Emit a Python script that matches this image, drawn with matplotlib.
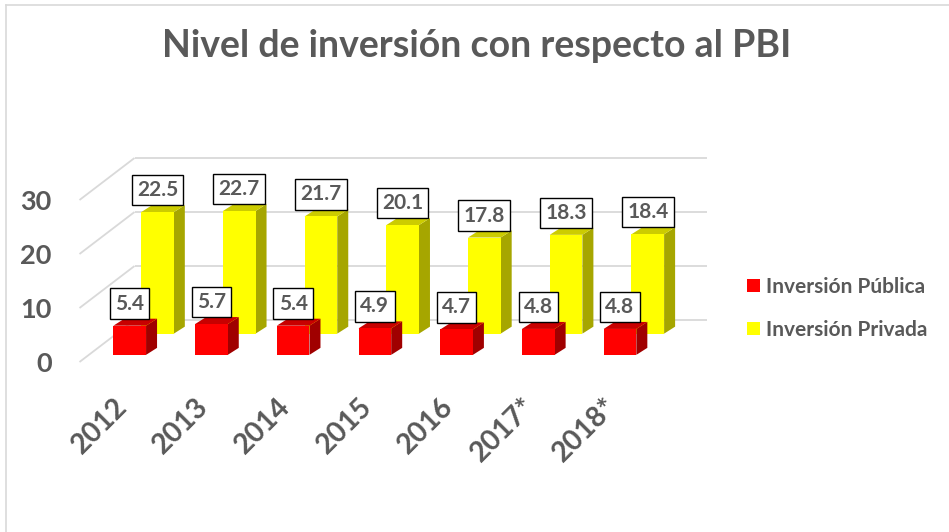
import matplotlib
matplotlib.use('Agg')
import matplotlib.pyplot as plt
from matplotlib.patches import Polygon, Rectangle, Patch
from matplotlib.lines import Line2D

# ---------------- data ----------------
years = ['2012', '2013', '2014', '2015', '2016', '2017*', '2018*']
publica = [5.4, 5.7, 5.4, 4.9, 4.7, 4.8, 4.8]
privada = [22.5, 22.7, 21.7, 20.1, 17.8, 18.3, 18.4]
series_names = ['Inversión Pública', 'Inversión Privada']
y_ticks = [0, 10, 20, 30]
title = 'Nivel de inversión con respecto al PBI'

# ---------------- style ----------------
FONT = 'Lato'
TXT = '#595959'
GRID = '#D9D9D9'
front_cols = ['#FF0000', '#FFFF00']
top_cols = ['#C80000', '#CCCC00']
side_cols = ['#A00000', '#A6A600']
depths = [0.17, 0.675]          # fraction of the floor depth for each series row

W, H = 949, 532
fig = plt.figure(figsize=(W / 100, H / 100), dpi=100)

# axes = front plane of the 3D box (pixel geometry)
ax_left, ax_base, ax_w, ax_h = 79.5, 362, 572, 162
ymax = 30
ax = fig.add_axes([ax_left / W, (H - ax_base) / H, ax_w / W, ax_h / H])
n = len(years)
ax.set_xlim(-0.5, n - 0.5)
ax.set_ylim(0, ymax)
for s in ax.spines.values():
    s.set_visible(False)
ax.patch.set_visible(False)

ppx = ax_w / n          # pixels per category
ppy = ax_h / ymax       # pixels per value unit
DEPTH_PX = (55, 42)     # front->back wall shift, pixels
THICK_PX = (11, 7)      # bar depth, pixels


def depth_off(t):
    return t * DEPTH_PX[0] / ppx, t * DEPTH_PX[1] / ppy


tx, ty = THICK_PX[0] / ppx, THICK_PX[1] / ppy
bw = 0.40

# back wall grid + side wall diagonals
bx, by = depth_off(1.0)
for v in y_ticks:
    ax.plot([-0.5 + bx, n - 0.5 + bx], [v + by, v + by], color=GRID, lw=1.3,
            zorder=0, clip_on=False, solid_capstyle='butt')
    ax.plot([-0.5, -0.5 + bx], [v, v + by], color=GRID, lw=1.3,
            zorder=0, clip_on=False, solid_capstyle='butt')

# bars: draw back row (privada) first, then front row (publica)
for k in [1, 0]:
    vals = [publica, privada][k]
    dx, dy = depth_off(depths[k])
    z = 2 + (1 - k) * 2
    for i, v in enumerate(vals):
        x0 = i - bw / 2 + dx
        y0 = dy
        ax.add_patch(Polygon([(x0 + bw, y0), (x0 + bw + tx, y0 + ty),
                              (x0 + bw + tx, y0 + v + ty), (x0 + bw, y0 + v)],
                             closed=True, fc=side_cols[k], ec='none', zorder=z, clip_on=False))
        ax.add_patch(Polygon([(x0, y0 + v), (x0 + bw, y0 + v),
                              (x0 + bw + tx, y0 + v + ty), (x0 + tx, y0 + v + ty)],
                             closed=True, fc=top_cols[k], ec='none', zorder=z, clip_on=False))
        ax.add_patch(Rectangle((x0, y0), bw, v, fc=front_cols[k], ec='none',
                               zorder=z + 0.5, clip_on=False))

# data labels (boxes)
for k in [1, 0]:
    vals = [publica, privada][k]
    dx, dy = depth_off(depths[k])
    for i, v in enumerate(vals):
        ax.annotate(f'{v:.1f}', xy=(i + dx, v + dy), xytext=(0, 12),
                    textcoords='offset pixels', ha='center', va='bottom',
                    fontsize=15, fontweight='bold', family=FONT, color=TXT,
                    zorder=10, annotation_clip=False,
                    bbox=dict(boxstyle='square,pad=0.25', fc='white', ec='black', lw=1.0))

# y tick labels (front plane)
ax.set_yticks(y_ticks)
ax.set_yticklabels([str(v) for v in y_ticks], fontsize=19.5, fontweight='bold',
                   family=FONT, color=TXT)
ax.tick_params(axis='y', length=0, pad=20)

# x labels (rotated, anchored at their upper-right end)
ax.set_xticks([])
for i, lab in enumerate(years):
    ax.annotate(lab, xy=(i, 0), xytext=(-7, -31), textcoords='offset pixels',
                rotation=45, rotation_mode='anchor', ha='right', va='top',
                fontsize=20.5, fontweight='bold', family=FONT, color=TXT,
                annotation_clip=False)

# legend
handles = [Patch(fc=front_cols[k], ec='none') for k in range(2)]
leg = fig.legend(handles, series_names, loc='upper left',
                 bbox_to_anchor=(747 / W, 1 - 277 / H), frameon=False,
                 prop={'family': FONT, 'weight': 'bold', 'size': 15},
                 handlelength=0.62, handleheight=0.62, handletextpad=0.3,
                 labelspacing=1.1, borderpad=0, borderaxespad=0)
for t in leg.get_texts():
    t.set_color(TXT)

# title
fig.text(477 / W, 1 - 46 / H, title, ha='center', va='center', fontsize=27,
         fontweight='bold', family=FONT, color=TXT)

# chart area border (top and left edges visible)
fig.add_artist(Line2D([6 / W, 1], [1 - 4.5 / H, 1 - 4.5 / H], color=GRID, lw=1.2,
                      transform=fig.transFigure))
fig.add_artist(Line2D([6 / W, 6 / W], [0, 1 - 4.5 / H], color=GRID, lw=1.2,
                      transform=fig.transFigure))

fig.savefig('out.png', dpi=100, facecolor='white')
